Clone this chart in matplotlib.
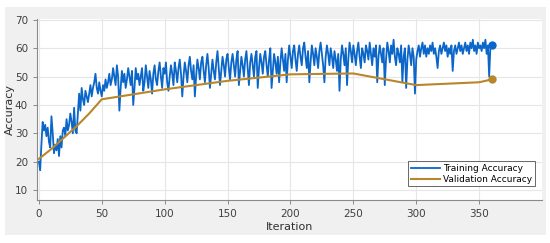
import numpy as np
import matplotlib
matplotlib.use("Agg")
import matplotlib.pyplot as plt
from matplotlib.patches import Rectangle

# training accuracy, one value per iteration
train_acc = [
    20, 17, 26, 34, 31, 33, 29, 32, 27, 25,
    36, 30, 23, 26, 24, 28, 22, 29, 25, 31,
    32, 29, 35, 31, 33, 37, 34, 30, 39, 31,
    30, 37, 44, 38, 46, 42, 40, 45, 43, 41,
    44, 47, 43, 46, 48, 51, 46, 44, 48, 45,
    43, 47, 45, 49, 46, 48, 51, 47, 49, 53,
    50, 47, 54, 50, 38, 46, 52, 48, 51, 46,
    49, 53, 50, 47, 52, 40, 46, 53, 49, 51,
    47, 50, 53, 45, 48, 54, 50, 46, 52, 49,
    44, 51, 54, 49, 47, 52, 55, 50, 46, 53,
    51, 55, 48, 45, 50, 54, 51, 47, 55, 52,
    48, 53, 56, 51, 43, 50, 55, 52, 48, 54,
    57, 52, 49, 54, 43, 50, 56, 53, 49, 55,
    57, 52, 48, 54, 58, 53, 46, 51, 56, 52,
    49, 55, 59, 53, 47, 52, 57, 54, 50, 56,
    58, 53, 49, 55, 58, 54, 50, 56, 59, 47,
    52, 57, 54, 50, 56, 59, 53, 47, 55, 58,
    54, 50, 57, 59, 46, 53, 58, 55, 51, 57,
    59, 54, 50, 56, 60, 46, 52, 58, 55, 51,
    57, 48, 55, 60, 56, 52, 58, 48, 56, 61,
    57, 53, 59, 61, 56, 52, 58, 61, 57, 54,
    60, 62, 57, 53, 59, 48, 55, 61, 58, 54,
    60, 57, 53, 59, 62, 58, 54, 48, 57, 61,
    58, 54, 60, 57, 53, 59, 56, 52, 58, 45,
    56, 61, 58, 54, 60, 47, 56, 62, 59, 55,
    61, 58, 54, 59, 62, 57, 53, 60, 58, 55,
    61, 59, 56, 62, 58, 54, 60, 57, 61, 48,
    57, 61, 58, 55, 60, 47, 56, 62, 59, 55,
    61, 58, 63, 57, 54, 60, 58, 55, 61, 48,
    57, 60, 46, 56, 61, 58, 54, 60, 57, 44,
    56, 59, 61, 57, 60, 62, 58, 61, 57, 60,
    58, 61, 59, 62, 58, 60, 57, 53, 59, 61,
    58, 60, 62, 59, 61, 57, 60, 58, 61, 52,
    59, 61, 58, 60, 62, 59, 61, 58, 60, 62,
    59, 61, 58, 62, 60, 63, 59, 61, 58, 62,
    60, 61, 59, 62, 60, 63, 58, 61, 50, 61,
    61,
]
train_iter = np.arange(len(train_acc))

val_iter = [0, 10, 20, 30, 40, 50, 100, 150, 200, 250, 300, 350, 360]
val_acc = [21, 24.5, 28.5, 32.5, 37, 42, 45.5, 48.5, 50.8, 51.1, 47, 48, 49]

blue = "#0a66c8"
brown = "#b8862b"

fig = plt.figure(figsize=(5.5, 2.43), dpi=100)
fig.patch.set_facecolor("white")
fig.patches.append(Rectangle((5 / 550, 1 - 235 / 243), 541 / 550, 228 / 243,
                             transform=fig.transFigure, facecolor="#f0f0f0",
                             edgecolor="none", zorder=-10))

ax = fig.add_axes([37 / 550, 1 - 200 / 243, 505 / 550, 181 / 243])
ax.set_facecolor("white")

ax.plot(train_iter, train_acc, color=blue, lw=1.3, label="Training Accuracy")
ax.plot(val_iter, val_acc, color=brown, lw=1.5, label="Validation Accuracy")
ax.plot(train_iter[-1], train_acc[-1], "o", color=blue, ms=5)
ax.plot(val_iter[-1], val_acc[-1], "o", color=brown, ms=5)

ax.set_xlim(-1.5, 400)
ax.set_ylim(6.5, 70.3)
ax.set_xticks(np.arange(0, 351, 50))
ax.set_yticks(np.arange(10, 71, 10))
ax.grid(True, color="#e6e6e6", lw=0.8)
ax.set_axisbelow(True)

for s in ["top", "right"]:
    ax.spines[s].set_visible(False)
for s in ["left", "bottom"]:
    ax.spines[s].set_color("#8a8a8a")
    ax.spines[s].set_linewidth(0.8)
ax.tick_params(direction="out", length=3, width=0.7, colors="#8a8a8a",
               labelcolor="#404040", labelsize=7.5)

ax.set_xlabel("Iteration", fontsize=8, color="#303030", labelpad=2)
ax.set_ylabel("Accuracy", fontsize=8, color="#303030")
ax.yaxis.set_label_coords(-0.044, 0.5)

leg = ax.legend(loc="lower right", fontsize=6.5, frameon=True, fancybox=False,
                borderpad=0.3, labelspacing=0.2, handlelength=3.2,
                handletextpad=0.4, bbox_to_anchor=(0.995, 0.05))
leg.get_frame().set_edgecolor("#404040")
leg.get_frame().set_linewidth(0.7)

fig.savefig("out.png", dpi=100, facecolor=fig.get_facecolor())
